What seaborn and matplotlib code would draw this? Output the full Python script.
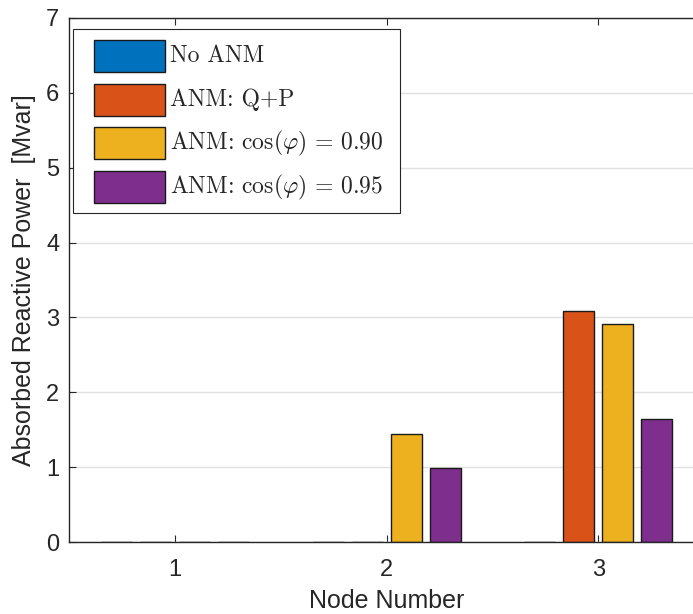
import matplotlib
matplotlib.use("Agg")
import matplotlib.pyplot as plt
import seaborn as sns
import pandas as pd
from matplotlib.patches import Patch, Rectangle
from matplotlib.legend_handler import HandlerPatch

nodes = ["1", "2", "3"]
series = ["No ANM", "ANM: Q+P", "ANM: cos0.90", "ANM: cos0.95"]
no_anm = [0.0, 0.0, 0.0]
anm_qp = [0.0, 0.0, 3.09]
anm_cos090 = [0.0, 1.45, 2.91]
anm_cos095 = [0.0, 0.99, 1.65]
legend_labels = ["No ANM", "ANM: Q+P",
                 r"ANM: $\cos(\varphi)\,=\,0.90$",
                 r"ANM: $\cos(\varphi)\,=\,0.95$"]
colors = ["#0072BD", "#D95319", "#EDB120", "#7E2F8E"]

rows = []
for s, vals in zip(series, [no_anm, anm_qp, anm_cos090, anm_cos095]):
    for n, v in zip(nodes, vals):
        rows.append({"Node": n, "Series": s, "Value": v})
df = pd.DataFrame(rows)

sns.set_style("white")
plt.rcParams["font.family"] = ["Liberation Sans", "DejaVu Sans"]
plt.rcParams["mathtext.fontset"] = "cm"

W, H = 693, 614
fig = plt.figure(figsize=(6.93, 6.14), dpi=100)
ax = fig.add_axes([0.100, 0.117, 0.916, 0.854])

sns.barplot(data=df, x="Node", y="Value", hue="Series", order=nodes,
            hue_order=series, palette=colors, width=0.736, gap=0.2,
            edgecolor="#1a1a1a", linewidth=1.0, ax=ax, legend=False,
            saturation=1, errorbar=None)

ax.set_xlim(-0.5, 2.5)
ax.set_ylim(0, 7)
ax.set_yticks(range(0, 8))
ax.yaxis.grid(True, color="#e0e0e0", linewidth=1.0)
ax.xaxis.grid(False)
ax.set_axisbelow(True)
ax.tick_params(axis="both", direction="in", length=5, width=0.8,
               labelsize=17, colors="#262626", top=True, right=True,
               bottom=True, left=True)
ax.tick_params(axis="x", pad=12)
ax.tick_params(axis="y", pad=7.2)
for sp in ax.spines.values():
    sp.set_color("#262626")
    sp.set_linewidth(1.0)
ax.set_xlabel("Node Number", fontsize=18, color="#262626", labelpad=6)
ax.set_ylabel("Absorbed Reactive Power  [Mvar]", fontsize=18, color="#262626",
              labelpad=7)

# legend frame (drawn separately so that its padding matches the reference)
frame = Rectangle((73 / W, 1 - 213 / H), 327 / W, 184 / H,
                  transform=fig.transFigure, facecolor="white",
                  edgecolor="#262626", linewidth=0.8, zorder=4.5,
                  clip_on=False)
ax.add_artist(frame)

fs = 17.0
em = fs * 100 / 72.0      # pixels per em
P = 72.0 / 100.0          # points per pixel
row_pitch = 43.7          # pixels
hh = (row_pitch / em - 0.245) / 0.65
desc = 0.35 * em * (hh - 0.7)
box_top = row_pitch - desc   # pixels above baseline


def make_patch(legend, orig_handle, xdescent, ydescent, width, height, fontsize):
    return Rectangle((-xdescent, -10 * P), 71 * P, 32 * P)


handles = [Patch(facecolor=c, edgecolor="#1a1a1a", linewidth=1.0) for c in colors]
first_baseline = 62.0
leg = ax.legend(handles, legend_labels, loc="upper left",
                bbox_to_anchor=(94 / W, 1 - (first_baseline - box_top) / H),
                bbox_transform=fig.transFigure,
                prop={"family": "cmr10", "size": fs},
                handler_map={Patch: HandlerPatch(patch_func=make_patch)},
                handlelength=71 / em, handleheight=hh,
                handletextpad=5 / em,
                labelspacing=0, borderpad=0, borderaxespad=0,
                frameon=False)
leg.set_zorder(5)

fig.savefig("out.png", dpi=100)
